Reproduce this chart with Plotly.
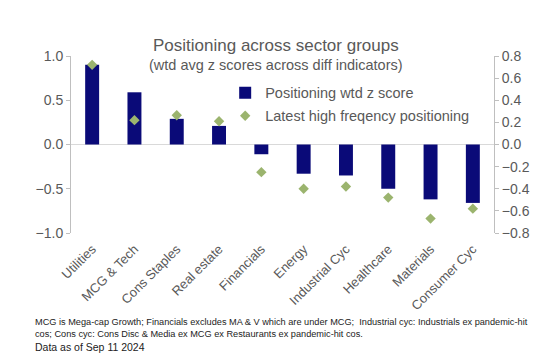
import plotly.graph_objects as go

categories = ["Utilities", "MCG & Tech", "Cons Staples", "Real estate", "Financials",
              "Energy", "Industrial Cyc", "Healthcare", "Materials", "Consumer Cyc"]
positioning_z = [0.90, 0.59, 0.29, 0.21, -0.11, -0.33, -0.35, -0.50, -0.62, -0.66]
high_freq = [0.72, 0.22, 0.265, 0.21, -0.25, -0.40, -0.38, -0.48, -0.67, -0.58]
left_ticks = [-1.0, -0.5, 0.0, 0.5, 1.0]
right_ticks = [-0.8, -0.6, -0.4, -0.2, 0.0, 0.2, 0.4, 0.6, 0.8]

GRAY = "#595959"
FONT = "Liberation Sans, Arial, sans-serif"

fig = go.Figure()
fig.add_trace(go.Bar(x=categories, y=positioning_z, name="Positioning wtd z score",
                     marker=dict(color="#0a0a78", line=dict(width=0)), width=0.33,
                     yaxis="y", legend="legend"))
fig.add_trace(go.Scatter(x=categories, y=high_freq, name="Latest high freqency positioning",
                         mode="markers", marker=dict(symbol="diamond", size=8, color="#9BB46E"),
                         yaxis="y2", legend="legend2"))

fig.update_layout(
    width=548, height=363,
    margin=dict(l=71, r=54, t=56, b=130),
    plot_bgcolor="white", paper_bgcolor="white",
    font=dict(family=FONT, color=GRAY, size=13),
    xaxis=dict(range=[-0.5, 9.5], tickangle=-45, showline=False, ticks="",
               ticklabelstandoff=5, tickfont=dict(size=13, color=GRAY)),
    yaxis=dict(range=[-1.0, 1.0], tickvals=left_ticks, tickformat=".1f",
               showline=True, linecolor="#bfbfbf", ticks="outside", ticklen=4,
               tickcolor="#bfbfbf", showgrid=False, zeroline=True, zerolinecolor="#d9d9d9",
               zerolinewidth=1, tickfont=dict(size=14, color=GRAY)),
    yaxis2=dict(range=[-0.8, 0.8], tickvals=right_ticks, tickformat=".1f",
                overlaying="y", side="right", showline=True, linecolor="#bfbfbf",
                ticks="outside", ticklen=4, tickcolor="#bfbfbf", showgrid=False,
                zeroline=False, tickfont=dict(size=14, color=GRAY)),
    legend=dict(x=0.3645, y=0.792, xanchor="left", yanchor="middle", bgcolor="rgba(0,0,0,0)",
                font=dict(size=14.5, color=GRAY), itemwidth=30),
    legend2=dict(x=0.3645, y=0.662, xanchor="left", yanchor="middle", bgcolor="rgba(0,0,0,0)",
                 font=dict(size=14.5, color=GRAY), itemwidth=30),
    showlegend=True,
)

fig.add_annotation(text="Positioning across sector groups", xref="paper", yref="paper",
                   x=0.4835, y=1.06, xanchor="center", yanchor="middle", showarrow=False,
                   font=dict(size=17, color=GRAY))
fig.add_annotation(text="(wtd avg z scores across diff indicators)", xref="paper", yref="paper",
                   x=0.4835, y=0.95, xanchor="center", yanchor="middle", showarrow=False,
                   font=dict(size=14.5, color=GRAY))
fig.add_annotation(text="MCG is Mega-cap Growth; Financials excludes MA & V which are under MCG;  Industrial cyc: Industrials ex pandemic-hit<br>cos; Cons cyc: Cons Disc & Media ex MCG ex Restaurants ex pandemic-hit cos.",
                   xref="paper", yref="paper", x=-0.09, y=-0.463, xanchor="left", yanchor="top",
                   align="left", showarrow=False, font=dict(size=9.2, color="#222222"))
fig.add_annotation(text="Data as of Sep 11 2024", xref="paper", yref="paper",
                   x=-0.09, y=-0.60, xanchor="left", yanchor="top",
                   align="left", showarrow=False, font=dict(size=10.5, color="#222222"))

fig.write_html("out.html", post_script="document.body.style.margin='0';",
               config={"displayModeBar": False})
